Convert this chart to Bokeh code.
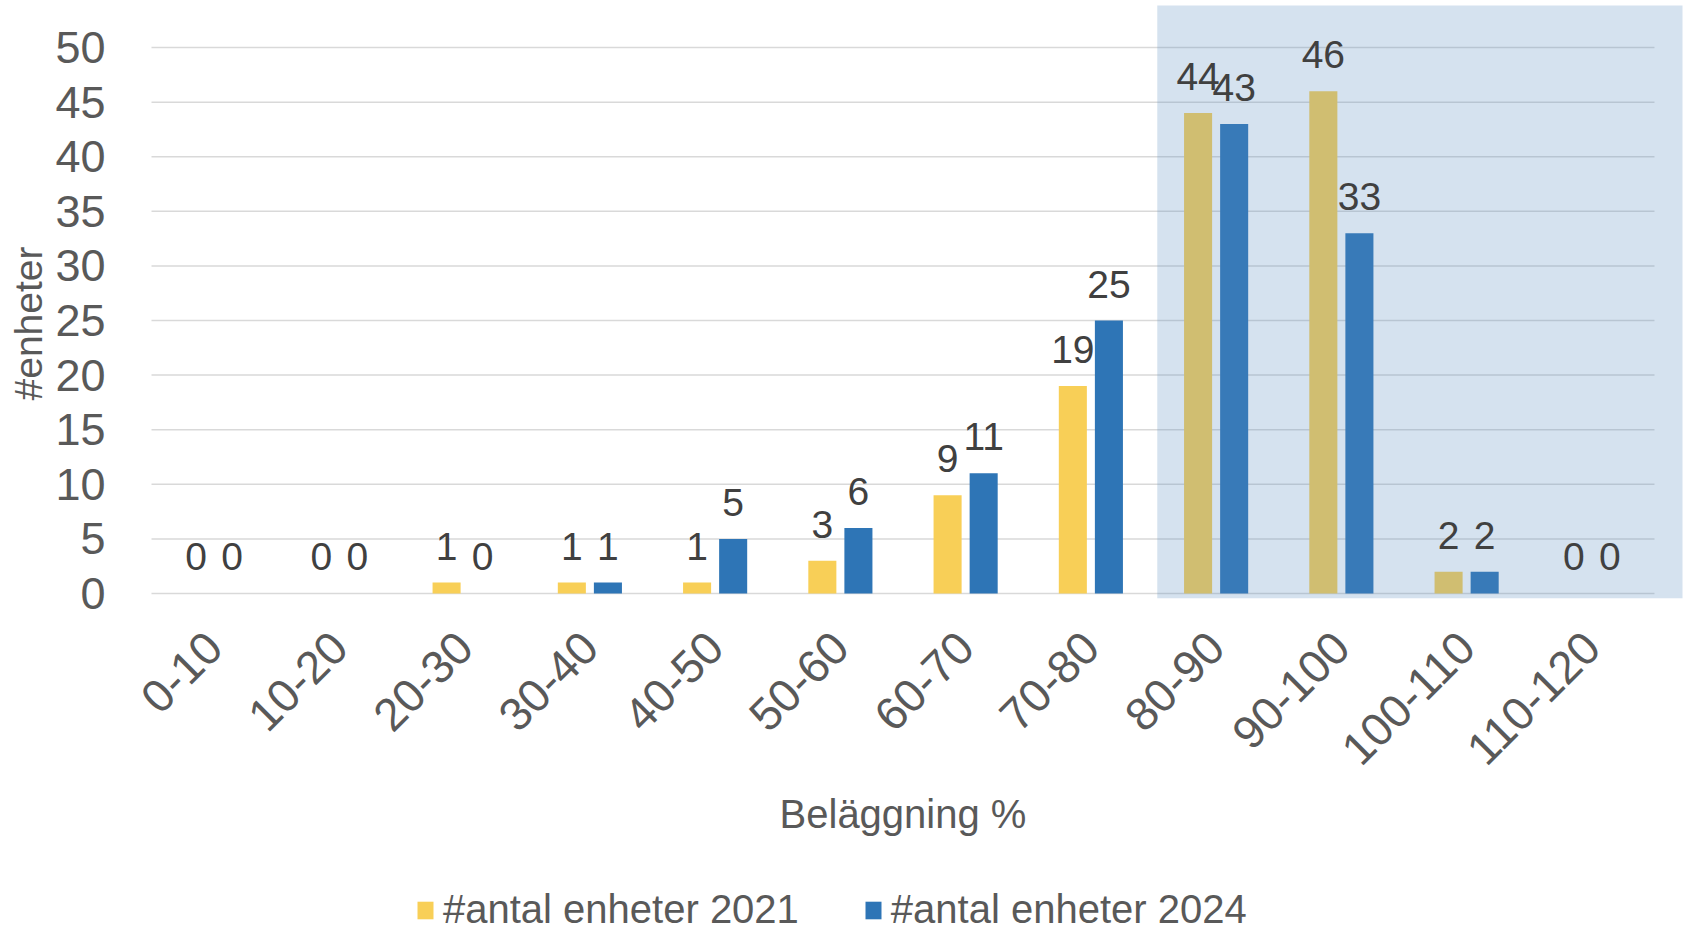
import math
from bokeh.plotting import figure
from bokeh.layouts import column
from bokeh.models import (ColumnDataSource, FactorRange, Range1d, FixedTicker, BoxAnnotation,
                          LabelSet, Legend, LegendItem, Title)
from bokeh.transform import dodge
from bokeh.core.properties import value
from bokeh.embed import file_html
from bokeh.resources import INLINE

categories = ["0-10", "10-20", "20-30", "30-40", "40-50", "50-60", "60-70",
              "70-80", "80-90", "90-100", "100-110", "110-120"]
units_2021 = [0, 0, 1, 1, 1, 3, 9, 19, 44, 46, 2, 0]
units_2024 = [0, 0, 0, 1, 5, 6, 11, 25, 43, 33, 2, 0]
y_ticks = [0, 5, 10, 15, 20, 25, 30, 35, 40, 45, 50]

series_names = ["#antal enheter 2021", "#antal enheter 2024"]
colors = ["#F8CF57", "#2E75B6"]

FONT = "Liberation Sans"
OFF = 0.144
BAR_W = 0.224
PAD = 0.2236

src = ColumnDataSource(dict(
    cat=categories,
    v21=units_2021,
    v24=units_2024,
    l21=[str(v) for v in units_2021],
    l24=[str(v) for v in units_2024],
))

p = figure(width=1687, height=868,
           x_range=FactorRange(factors=categories, range_padding=PAD, range_padding_units="absolute"),
           y_range=Range1d(-0.46, 53.85), output_backend="svg", toolbar_location=None,
           min_border_left=123, min_border_right=5, min_border_top=5, min_border_bottom=270)
p.outline_line_color = None
p.background_fill_color = "white"
p.border_fill_color = "white"
p.xgrid.grid_line_color = None
p.ygrid.grid_line_color = None

# horizontal gridlines spanning the category area only
grid_src = ColumnDataSource(dict(y=y_ticks, x0=[0] * len(y_ticks), x1=[len(categories)] * len(y_ticks)))
p.segment(x0="x0", x1="x1", y0="y", y1="y", source=grid_src, line_color="#D9D9D9", line_width=1.5)

r1 = p.vbar(x=dodge("cat", -OFF, range=p.x_range), top="v21", width=BAR_W, source=src,
            fill_color=colors[0], line_color=None)
r2 = p.vbar(x=dodge("cat", OFF, range=p.x_range), top="v24", width=BAR_W, source=src,
            fill_color=colors[1], line_color=None)

# highlight box over 80-120
box = BoxAnnotation(left=8.03, right=12.3, bottom=-0.46, top=54.0,
                    fill_color="#578BBF", fill_alpha=0.25, line_color=None)
p.add_layout(box)

for col, lab, off in [("v21", "l21", -OFF), ("v24", "l24", OFF)]:
    ls = LabelSet(x=dodge("cat", off, range=p.x_range), y=col, text=lab, source=src,
                  text_align="center", text_baseline="alphabetic", y_offset=23,
                  text_font=value(FONT), text_font_size="39px", text_color="#404040")
    p.add_layout(ls)

# y axis
p.yaxis.ticker = FixedTicker(ticks=y_ticks)
p.yaxis.axis_line_color = None
p.yaxis.major_tick_line_color = None
p.yaxis.minor_tick_line_color = None
p.yaxis.major_label_standoff = 12
p.yaxis.major_label_text_font = FONT
p.yaxis.major_label_text_font_size = "45px"
p.yaxis.major_label_text_color = "#595959"

# y axis title (side title, nudged up from the frame bottom)
ytitle = Title(text="#enheter", align="left", offset=198, standoff=6,
               text_font=FONT, text_font_size="39px", text_font_style="normal",
               text_color="#595959")
p.add_layout(ytitle, "left")

# x axis
p.xaxis.axis_line_color = None
p.xaxis.major_tick_line_color = None
p.xaxis.minor_tick_line_color = None
p.xaxis.major_label_orientation = math.pi / 4
p.xaxis.major_label_standoff = 35
p.xaxis.major_label_text_font = FONT
p.xaxis.major_label_text_font_size = "46px"
p.xaxis.major_label_text_color = "#595959"
p.xaxis.axis_label = "Beläggning %"
p.xaxis.axis_label_text_font = FONT
p.xaxis.axis_label_text_font_size = "40px"
p.xaxis.axis_label_text_font_style = "normal"
p.xaxis.axis_label_text_color = "#595959"
p.xaxis.axis_label_standoff = 10

# legend strip below the chart (its frame is aligned with the chart frame by the column)
lf = figure(width=1687, height=77, x_range=Range1d(0, 1), y_range=Range1d(0, 1),
            output_backend="svg", toolbar_location=None,
            min_border_left=0, min_border_right=0, min_border_top=0, min_border_bottom=0)
lf.axis.visible = False
lf.grid.visible = False
lf.outline_line_color = None
lf.background_fill_color = "white"
lf.border_fill_color = "white"
lr1 = lf.vbar(x=[-5], top=[0], width=0.1, fill_color=colors[0], line_color=None)
lr2 = lf.vbar(x=[-5], top=[0], width=0.1, fill_color=colors[1], line_color=None)
legend = Legend(items=[LegendItem(label=series_names[0], renderers=[lr1]),
                       LegendItem(label=series_names[1], renderers=[lr2])],
                orientation="horizontal", location=(292, 13),
                label_text_font=FONT, label_text_font_size="40px", label_text_color="#595959",
                glyph_width=20, glyph_height=22, label_standoff=8, spacing=64,
                border_line_color=None, background_fill_alpha=0, padding=0, margin=0)
lf.add_layout(legend, "center")

layout = column(p, lf, spacing=0)
open("out.html", "w").write(file_html(layout, INLINE))
